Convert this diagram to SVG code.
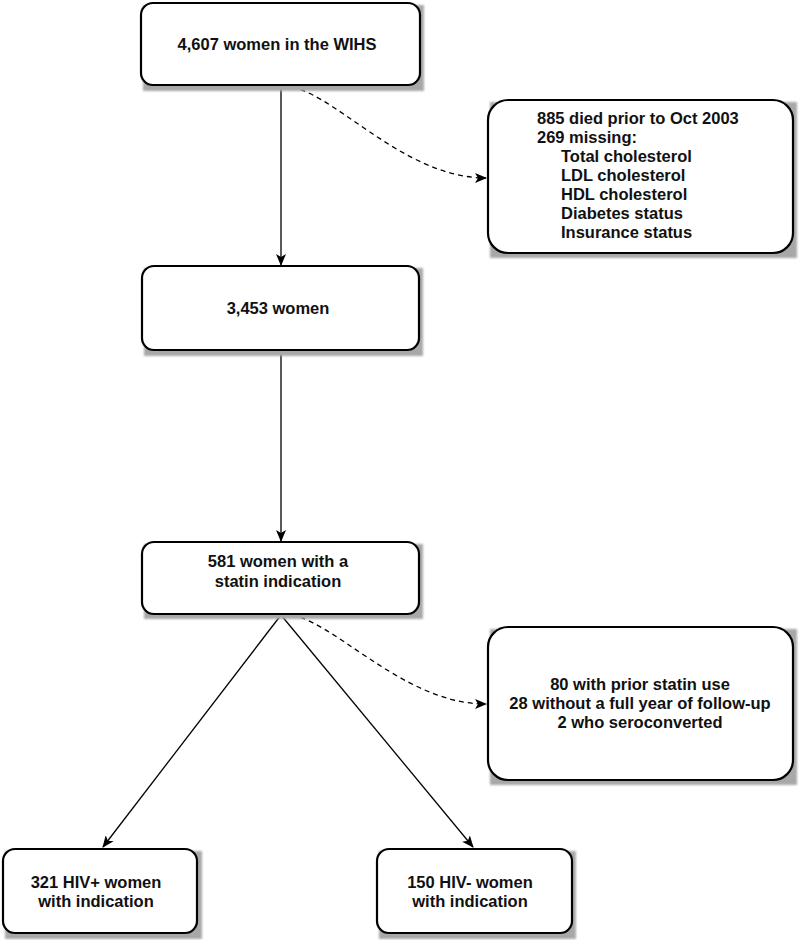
<svg xmlns="http://www.w3.org/2000/svg" width="800" height="940" viewBox="0 0 800 940">
<defs>
<filter id="blur" x="-5%" y="-5%" width="110%" height="110%"><feGaussianBlur stdDeviation="1.2"/></filter>
<marker id="arr" markerWidth="12" markerHeight="10" refX="11" refY="5" orient="auto" markerUnits="userSpaceOnUse">
<path d="M0,0 L12,5 L0,10 L3,5 Z" fill="#000"/>
</marker>
</defs>
<style>
.box{fill:#fff;stroke:#000;stroke-width:2.2}
.sh{fill:#a8a8a8;filter:url(#blur)}
.t{font-family:"Liberation Sans",Arial,sans-serif;font-weight:bold;font-size:16.5px;fill:#111}
.c{text-anchor:middle}
.ln{fill:none;stroke:#000;stroke-width:1.3}
.dash{fill:none;stroke:#000;stroke-width:1.3;stroke-dasharray:5,4}
</style>
<rect width="800" height="940" fill="#fff"/>
<g id="connectors">
<line class="ln" x1="281" y1="86" x2="281" y2="265" marker-end="url(#arr)"/>
<line class="ln" x1="281" y1="351" x2="281" y2="541" marker-end="url(#arr)"/>
<path class="dash" d="M283,86 C330,86 400,178 486,178" marker-end="url(#arr)"/>
<path class="dash" d="M283,614 C330,614 400,704 486,704" marker-end="url(#arr)"/>
<line class="ln" x1="281" y1="615" x2="103" y2="847" marker-end="url(#arr)"/>
<line class="ln" x1="281" y1="615" x2="473" y2="847" marker-end="url(#arr)"/>
</g>
<g id="n1">
<rect class="sh" x="143" y="5" width="281" height="86"/>
<rect class="box" x="141" y="3" width="279" height="82" rx="12"/>
<text class="t c" x="277" y="50">4,607 women in the WIHS</text>
</g>
<g id="n2">
<rect class="sh" x="490" y="102" width="307" height="156"/>
<rect class="box" x="488" y="100" width="305" height="153" rx="20"/>
<text class="t" x="537" y="124">885 died prior to Oct 2003</text>
<text class="t" x="537" y="143">269 missing:</text>
<text class="t" x="561" y="162">Total cholesterol</text>
<text class="t" x="561" y="181">LDL cholesterol</text>
<text class="t" x="561" y="200">HDL cholesterol</text>
<text class="t" x="561" y="219">Diabetes status</text>
<text class="t" x="561" y="238">Insurance status</text>
</g>
<g id="n3">
<rect class="sh" x="144" y="268" width="279" height="88"/>
<rect class="box" x="142" y="266" width="277" height="84" rx="12"/>
<text class="t c" x="278" y="314">3,453 women</text>
</g>
<g id="n4">
<rect class="sh" x="144" y="544" width="279" height="75"/>
<rect class="box" x="142" y="542" width="277" height="72" rx="12"/>
<text class="t c" x="278" y="567">581 women with a</text>
<text class="t c" x="278" y="587">statin indication</text>
</g>
<g id="n5">
<rect class="sh" x="490" y="629" width="307" height="156"/>
<rect class="box" x="488" y="627" width="305" height="153" rx="20"/>
<text class="t c" x="640" y="690">80 with prior statin use</text>
<text class="t c" x="640" y="709">28 without a full year of follow-up</text>
<text class="t c" x="640" y="728">2 who seroconverted</text>
</g>
<g id="n6">
<rect class="sh" x="5" y="851" width="197" height="88"/>
<rect class="box" x="3" y="849" width="194" height="84" rx="12"/>
<text class="t c" x="96" y="888">321 HIV+ women</text>
<text class="t c" x="96" y="907">with indication</text>
</g>
<g id="n7">
<rect class="sh" x="379" y="851" width="197" height="88"/>
<rect class="box" x="377" y="849" width="195" height="84" rx="12"/>
<text class="t c" x="470" y="888">150 HIV- women</text>
<text class="t c" x="470" y="907">with indication</text>
</g>
</svg>
